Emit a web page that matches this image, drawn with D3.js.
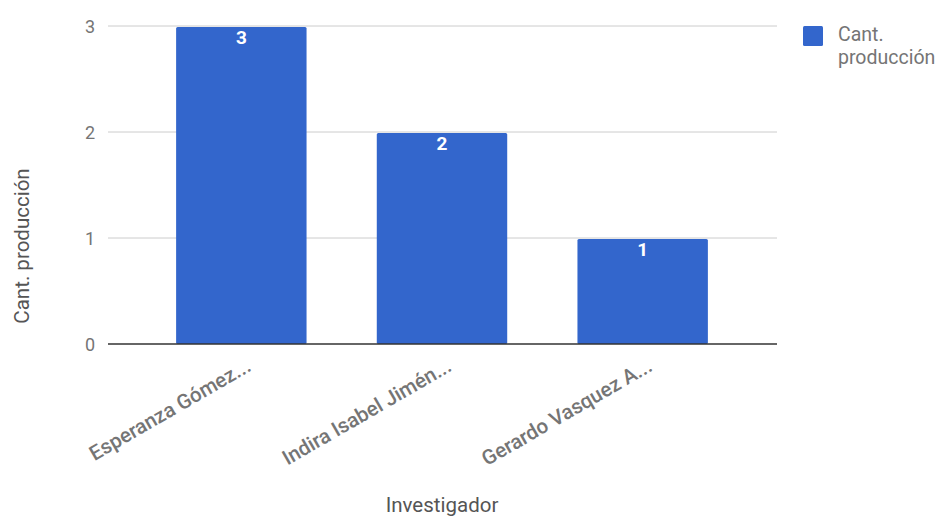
<!DOCTYPE html>
<html><head><meta charset="utf-8">
<script src="https://cdn.jsdelivr.net/npm/d3@7"></script>
<style>body{margin:0;background:#fff;}svg{display:block;font-family:Roboto,Arial,sans-serif;}</style>
</head><body>
<script>
const categories = ["Esperanza Gómez...", "Indira Isabel Jimén...", "Gerardo Vasquez A..."];
const values = [3, 2, 1];
const yTicks = [0, 1, 2, 3];
const seriesName = "Cant. producción";
const xTitle = "Investigador";
const yTitle = "Cant. producción";

const W = 947, H = 518;
const svg = d3.select("body").append("svg").attr("width", W).attr("height", H);
const plotL = 108, plotR = 777, plotT = 26, plotB = 344;

const x = d3.scaleBand().domain(categories).range([141, 743]).paddingInner(0.35).paddingOuter(0.175);
const y = d3.scaleLinear().domain([0, 3]).range([plotB, plotT]);

// gridlines
svg.append("g").selectAll("line").data(yTicks.filter(d => d !== 0)).join("line")
  .attr("x1", plotL).attr("x2", plotR)
  .attr("y1", d => y(d)).attr("y2", d => y(d))
  .attr("stroke", "#cccccc").attr("stroke-width", 1);

// y tick labels
svg.append("g").selectAll("text").data(yTicks).join("text")
  .attr("x", 95).attr("y", d => y(d) + 6.5)
  .attr("text-anchor", "end").attr("font-size", 18).attr("fill", "#757575")
  .text(d => d);

// bars
svg.append("g").selectAll("rect").data(values).join("rect")
  .attr("x", (d, i) => x(categories[i]))
  .attr("y", d => y(d) + 1)
  .attr("width", x.bandwidth())
  .attr("height", d => plotB - y(d) - 1)
  .attr("rx", 1.5)
  .attr("fill", "#3366cc");

// bar labels
svg.append("g").selectAll("text").data(values).join("text")
  .attr("x", (d, i) => x(categories[i]) + x.bandwidth() / 2)
  .attr("y", d => y(d) + 18)
  .attr("text-anchor", "middle").attr("font-size", 19).attr("font-weight", "bold")
  .attr("fill", "#ffffff")
  .text(d => d);

// baseline
svg.append("line").attr("x1", plotL).attr("x2", plotR)
  .attr("y1", y(0)).attr("y2", y(0)).attr("stroke", "#333333").attr("stroke-width", 1.5);

// x labels rotated
svg.append("g").selectAll("text").data(categories).join("text")
  .attr("transform", d => `translate(${x(d) + x.bandwidth() / 2 + 11},${plotB + 26}) rotate(-30)`)
  .attr("text-anchor", "end").attr("font-size", 20.5).attr("font-weight", 500).attr("fill", "#757575")
  .text(d => d);

// axis titles
svg.append("text").attr("x", 442).attr("y", 512)
  .attr("text-anchor", "middle").attr("font-size", 20.5).attr("fill", "#555555").text(xTitle);
svg.append("text").attr("transform", `translate(29,246) rotate(-90)`)
  .attr("text-anchor", "middle").attr("font-size", 20.5).attr("fill", "#555555").text(yTitle);

// legend
svg.append("rect").attr("x", 803).attr("y", 26).attr("width", 20).attr("height", 20)
  .attr("rx", 1.5).attr("fill", "#3366cc");
const lt = svg.append("text").attr("font-size", 19.5).attr("fill", "#757575");
lt.append("tspan").attr("x", 838).attr("y", 41).text(seriesName.split(" ")[0]);
lt.append("tspan").attr("x", 838).attr("y", 64).text(seriesName.split(" ")[1]);
</script>
</body></html>
